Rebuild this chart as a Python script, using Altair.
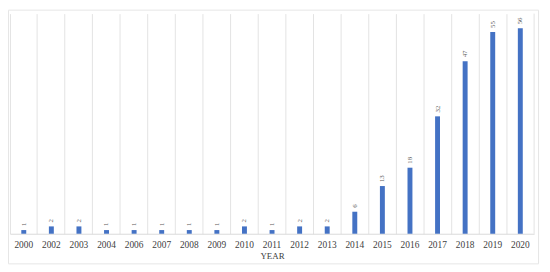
import altair as alt
import pandas as pd

years = ["2000", "2002", "2003", "2004", "2006", "2007", "2008", "2009", "2010",
         "2011", "2012", "2013", "2014", "2015", "2016", "2017", "2018", "2019", "2020"]
counts = [1, 2, 2, 1, 1, 1, 1, 1, 2, 1, 2, 2, 6, 13, 18, 32, 47, 55, 56]

df = pd.DataFrame({"year": years, "count": counts})

W, H = 531, 223
FONT = "Liberation Serif"

xscale = alt.Scale(domain=years, paddingInner=0, paddingOuter=0)
yscale = alt.Scale(domain=[0, 60])

base = alt.Chart(df)

bars = base.mark_bar(size=5, color="#4472C4").encode(
    x=alt.X("year:N", scale=xscale, sort=years,
            axis=alt.Axis(title="YEAR", bandPosition=0,
                          grid=True, gridColor="#e3e3e3", ticks=False,
                          domainColor="#d9d9d9", labelAngle=0,
                          labelFont=FONT, labelFontSize=9.5, labelColor="#404040",
                          labelPadding=6, titleFont=FONT, titleFontSize=9,
                          titleFontWeight="normal", titleColor="#404040",
                          titlePadding=3)),
    y=alt.Y("count:Q", scale=yscale, axis=None),
)

labels = base.mark_text(angle=270, align="left", baseline="middle", dx=4,
                        font=FONT, fontSize=7, color="#595959").encode(
    x=alt.X("year:N", scale=xscale, sort=years),
    y=alt.Y("count:Q", scale=yscale),
    text="count:Q",
)

right_edge = alt.Chart(pd.DataFrame({"a": [0]})).mark_rule(color="#e3e3e3").encode(
    x=alt.value(W), y=alt.value(0), y2=alt.value(H)
)

border = alt.Chart(pd.DataFrame({"a": [0]})).mark_rect(
    fill=None, stroke="#e6e6e6", strokeWidth=1, clip=False).encode(
    x=alt.value(-1.5), x2=alt.value(535.5), y=alt.value(-3.5), y2=alt.value(253.5)
)

chart = alt.layer(border, bars, labels, right_edge).properties(
    width=W, height=H,
    autosize=alt.AutoSizeParams(type="none"),
    padding={"left": 2, "top": 4, "right": 8, "bottom": 32},
).configure_view(stroke=None)

chart.save("out.html", embed_options={"renderer": "svg", "actions": False})
